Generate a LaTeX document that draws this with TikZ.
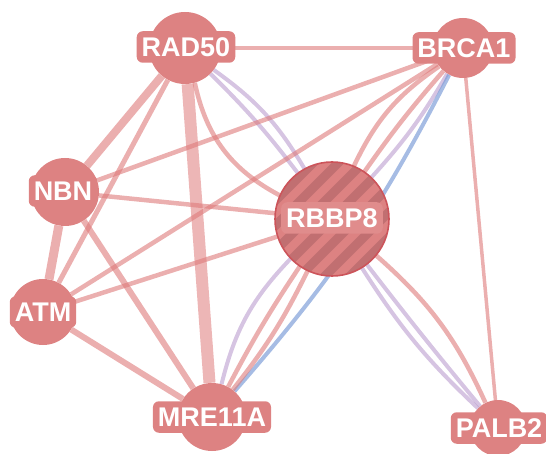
\documentclass[tikz,border=0pt]{standalone}
\usepackage{fontspec}
\setmainfont{Liberation Sans}
\usetikzlibrary{calc,backgrounds}
\definecolor{gfill}{RGB}{221,130,130}
\definecolor{gedge}{RGB}{222,122,122}
\definecolor{gpurple}{RGB}{186,156,206}
\definecolor{gblue}{RGB}{118,152,214}
\definecolor{qstripe}{RGB}{170,96,100}
\definecolor{qline}{RGB}{204,84,90}

\begin{document}
\begin{tikzpicture}[x=1pt, y=-1pt,
    every node/.style={font=\bfseries\fontsize{27}{27}\selectfont},
    gene/.style={circle, fill=gfill, inner sep=0pt},
    lbl/.style={rectangle, rounded corners=6pt, fill=gfill, text=white, inner xsep=5pt, inner ysep=6pt, text height=19.5pt, text depth=0pt},
    coexp/.style={gedge, opacity=0.6, line width=4.5pt},
    ppi/.style={gpurple, opacity=0.6, line width=4pt},
    gint/.style={gblue, opacity=0.65, line width=4pt},
    stripe/.style={qstripe, line width=9pt, opacity=0.55},
]
\useasboundingbox (0,0) rectangle (546,454);

% ── Genes ──
\node[gene, minimum size=72pt] (rad50) at (185,48) {};
\node[gene, minimum size=60pt] (brca1) at (463,48) {};
\node[gene, minimum size=68pt] (nbn)   at (65,192) {};
\node[gene, minimum size=66pt] (atm)   at (43,312) {};
\node[gene, minimum size=68pt] (mre11a) at (212,417) {};
\node[gene, minimum size=56pt] (palb2) at (498,428) {};
\node[gene, minimum size=114pt] (rbbp8) at (332,219) {};

% ── Edges (behind the genes) ──
\begin{scope}[on background layer]
\draw[coexp] (rad50) -- (brca1);
\draw[coexp, line width=8pt] (rad50) -- (nbn);
\draw[coexp, line width=5pt] (rad50) -- (atm);
\draw[coexp, line width=12pt, opacity=0.55] (rad50) -- (mre11a);
\draw[coexp] (rad50) to[bend right=25] (rbbp8);
\draw[ppi] (rad50) to[bend left=4] (rbbp8);
\draw[ppi] (rad50) to[bend left=12] (rbbp8);
\draw[coexp, line width=9pt] (nbn) -- (atm);
\draw[coexp] (nbn) -- (brca1);
\draw[coexp] (nbn) -- (rbbp8);
\draw[coexp, line width=6pt] (nbn) -- (mre11a);
\draw[coexp] (atm) -- (brca1);
\draw[coexp] (atm) -- (rbbp8);
\draw[coexp, line width=6pt] (atm) -- (mre11a);
\draw[coexp] (brca1) to[bend right=15] (rbbp8);
\draw[coexp] (brca1) to[bend right=3] (rbbp8);
\draw[ppi] (brca1) to[bend left=6] (rbbp8);
\draw[gint] (brca1) to[bend left=7] (mre11a);
\draw[coexp, line width=3.5pt] (brca1) -- (palb2);
\draw[ppi] (rbbp8) to[bend right=15] (mre11a);
\draw[coexp] (rbbp8) to[bend right=3] (mre11a);
\draw[coexp] (rbbp8) to[bend left=6] (mre11a);
\draw[ppi] (rbbp8) to[bend right=7] (palb2);
\draw[ppi] (rbbp8) to[bend right=1] (palb2);
\draw[coexp] (rbbp8) to[bend left=12] (palb2);
\end{scope}

% ── Query stripes ──
\begin{scope}
  \clip (rbbp8.center) circle (57pt);
  \foreach \k in {-6,...,6}
    \draw[stripe] ($(rbbp8.center)+(\k*25-80,80)$) -- ++(160,-160);
\end{scope}
\draw[qline, line width=1.6pt] (rbbp8.center) circle (57pt);

% ── Labels ──
\node[lbl] (rad50l) at ($(rad50)+(1,-1)$) {RAD50};
\node[lbl] (brca1l) at ($(brca1)+(1,0)$) {BRCA1};
\node[lbl] (nbnl) at ($(nbn)+(-2,-1)$) {NBN};
\node[lbl] (atml) at (atm) {ATM};
\node[lbl] (mre11al) at (mre11a) {MRE11A};
\node[lbl] (palb2l) at ($(palb2)+(1,0)$) {PALB2};
\node[lbl, fill=gfill!92!white] (rbbp8l) at ($(rbbp8)+(0,-1)$) {RBBP8};

\end{tikzpicture}
\end{document}
